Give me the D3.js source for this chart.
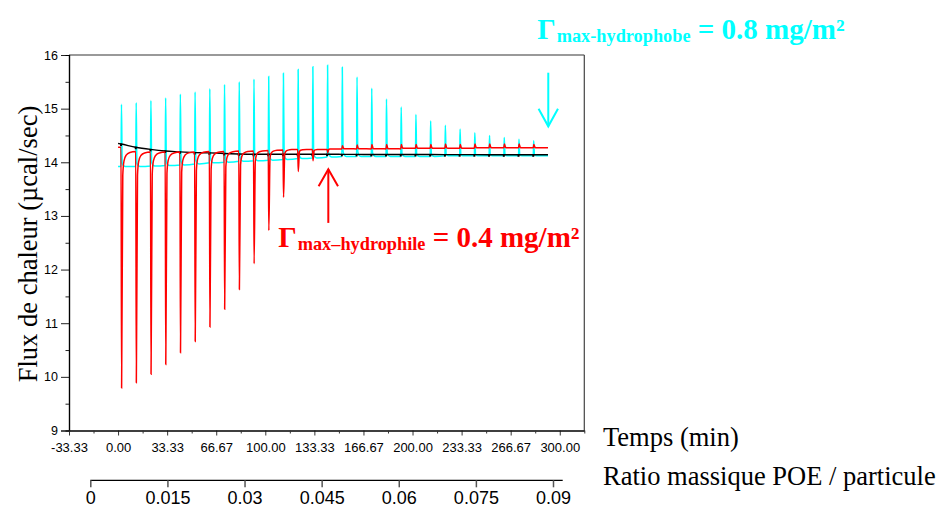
<!DOCTYPE html>
<html><head><meta charset="utf-8">
<script src="https://cdn.jsdelivr.net/npm/d3@7"></script>
<style>body{margin:0;background:#fff}svg{display:block}</style>
</head><body>
<script>
// ---------- data ----------
const injTimes = [2,12,22,32,42,52,62,72,82,92,102,112,122,132,142,152,162,172,182,192,202,212,222,232,242,252,262,272,282];
const cyanPeak = [15.08,15.11,15.15,15.20,15.27,15.31,15.37,15.45,15.50,15.55,15.60,15.66,15.73,15.78,15.81,15.77,15.59,15.38,15.18,15.03,14.89,14.77,14.69,14.62,14.55,14.50,14.46,14.43,14.40];
const cyanBase = [13.92,13.92,13.93,13.94,13.95,13.97,13.99,14.00,14.02,14.03,14.04,14.05,14.07,14.08,14.10,14.11,14.11,14.11,14.11,14.11,14.11,14.11,14.12,14.12,14.12,14.12,14.12,14.12,14.12];
const redPeak  = [9.79,9.89,10.05,10.23,10.45,10.66,10.93,11.26,11.63,12.11,12.73,13.35,13.83,14.03,14.18,14.31,14.32,14.33,14.33,14.33,14.33,14.33,14.34,14.33,14.34,14.34,14.34,14.34,14.33];
const redBase  = [14.28,14.20,14.19,14.19,14.19,14.19,14.20,14.20,14.21,14.21,14.22,14.23,14.24,14.24,14.24,14.25,14.25,14.25,14.25,14.25,14.26,14.26,14.26,14.26,14.26,14.27,14.27,14.27,14.27];
const blackAtInj = [14.34,14.28,14.24,14.21,14.195,14.18,14.175,14.165,14.155,14.15,14.15,14.15,14.15,14.15,14.15,14.148,14.147,14.146,14.145,14.145,14.145,14.144,14.143,14.142,14.142,14.141,14.14,14.14,14.14];
const traceStartT = 0, traceEndT = 292;
const cyanStartV = 13.92, cyanEndV = 14.12;
const redStartV = 14.28, redEndV = 14.27;
const blackStartV = 14.35, blackEndV = 14.14;

const xTickVals = [-33.33,0,33.33,66.67,100,133.33,166.67,200,233.33,266.67,300];
const xTickLabels = ["-33.33","0.00","33.33","66.67","100.00","133.33","166.67","200.00","233.33","266.67","300.00"];
const xMinorVals = [-16.67,16.67,50,83.33,116.67,150,183.33,216.67,250,283.33,316.67];
const yTickVals = [9,10,11,12,13,14,15,16];
const yMinorVals = [9.5,10.5,11.5,12.5,13.5,14.5,15.5];
const ratioTickVals = [0,0.015,0.03,0.045,0.06,0.075,0.09];
const ratioTickLabels = ["0","0.015","0.03","0.045","0.06","0.075","0.09"];

// annotation anchors (data units)
const redArrow = {t:142.8, from:12.87, to:13.87};
const cyanArrow = {t:292.2, from:15.67, to:14.67};

// ---------- drawing ----------
const W = 940, H = 508;
const svg = d3.select("body").append("svg").attr("width", W).attr("height", H);
const x = d3.scaleLinear().domain([-33.33, 316.67]).range([69, 584.3]);
const y = d3.scaleLinear().domain([9, 16]).range([430.5, 55]);
const ratio = d3.scaleLinear().domain([0, 0.09]).range([90.3, 553]);
const sans = "'Liberation Sans', Arial, sans-serif";
const serif = "'Liberation Serif', 'Times New Roman', serif";

// spike shapes (rendering profile)
const cyanShape = {dt:[0.3,0.8,1.6,3], f:[1,0.06,0.015,0]};
const redShape = {dt:[0.4,1.2,2,3.5,6], f:[1,0.1,0.04,0.015,0.004]};

const cyanPts = [[traceStartT, cyanStartV]];
injTimes.forEach((t,i)=>{
  const b = cyanBase[i], p = cyanPeak[i];
  cyanPts.push([t, b]);
  cyanShape.dt.forEach((dt,k)=>cyanPts.push([t+dt, b + cyanShape.f[k]*(p-b)]));
});
cyanPts.push([traceEndT, cyanEndV]);

const redPts = [[traceStartT, redStartV]];
injTimes.forEach((t,i)=>{
  const b = redBase[i], p = redPeak[i];
  const post = i < injTimes.length-1 ? redBase[i+1] : redEndV;
  redPts.push([t, b]);
  redShape.dt.forEach((dt,k)=>redPts.push([t+dt, post + redShape.f[k]*(p-post)]));
});
redPts.push([traceEndT, redEndV]);

const blackPts = [[traceStartT, blackStartV]].concat(injTimes.map((t,i)=>[t, blackAtInj[i]])).concat([[traceEndT, blackEndV]]);

const lineGen = d3.line().x(d=>x(d[0])).y(d=>y(d[1])).curve(d3.curveMonotoneX);

const plot = svg.append("g");
plot.append("path").datum(cyanPts).attr("d", lineGen).attr("fill","none").attr("stroke","#00FFFF").attr("stroke-width",1.5);
plot.append("path").datum(blackPts).attr("d", lineGen).attr("fill","none").attr("stroke","#000").attr("stroke-width",1.4);
plot.selectAll("rect.bm").data(injTimes).enter().append("rect").attr("class","bm")
  .attr("x", d=>x(d)-1).attr("y",(d,i)=>y(blackAtInj[i])-0.5).attr("width",2).attr("height",2.5).attr("fill","#000");
plot.append("path").datum(redPts).attr("d", lineGen).attr("fill","none").attr("stroke","#FF0000").attr("stroke-width",1.5);

// frame
const fx0 = x.range()[0], fx1 = x.range()[1], fy0 = y.range()[1], fy1 = y.range()[0];
svg.append("line").attr("x1",fx0).attr("x2",fx1).attr("y1",fy0).attr("y2",fy0).attr("stroke","#777").attr("stroke-width",1.5);
svg.append("line").attr("x1",fx1).attr("x2",fx1).attr("y1",fy0).attr("y2",fy1).attr("stroke","#444").attr("stroke-width",1.2);

// y axis
const yAx = svg.append("g").attr("transform",`translate(${fx0},0)`)
  .call(d3.axisLeft(y).tickValues(yTickVals).tickFormat(d3.format("d")).tickSize(8).tickPadding(3));
const yMin = svg.append("g").attr("transform",`translate(${fx0},0)`)
  .call(d3.axisLeft(y).tickValues(yMinorVals).tickFormat("").tickSize(3.5));
[yAx,yMin].forEach(g=>{g.select(".domain").attr("stroke","#000").attr("stroke-width",1.2);g.selectAll("line").attr("stroke","#222");});
yAx.selectAll("text").attr("font-family",sans).attr("font-size",12.5).attr("fill","#000");

// x axis (time)
const xAx = svg.append("g").attr("transform",`translate(0,${fy1})`)
  .call(d3.axisBottom(x).tickValues(xTickVals).tickFormat((d,i)=>xTickLabels[i]).tickSize(5).tickPadding(7.5).tickSizeOuter(0));
const xMin = svg.append("g").attr("transform",`translate(0,${fy1})`)
  .call(d3.axisBottom(x).tickValues(xMinorVals).tickFormat("").tickSize(3).tickSizeOuter(0));
[xAx,xMin].forEach(g=>{g.select(".domain").attr("stroke","#000").attr("stroke-width",1.2);g.selectAll("line").attr("stroke","#333");});
xAx.selectAll("text").attr("font-family",sans).attr("font-size",13).attr("fill","#000");

// ratio axis
const rAx = svg.append("g").attr("transform","translate(0,480.3)")
  .call(d3.axisBottom(ratio).tickValues(ratioTickVals).tickFormat((d,i)=>ratioTickLabels[i]).tickSize(7).tickPadding(4).tickSizeOuter(0));
rAx.select(".domain").attr("d", `M${ratio(0)},0H${ratio.range()[1]+9.7}`).attr("stroke","#000").attr("stroke-width",1.2);
rAx.selectAll("line").attr("stroke","#555").attr("stroke-width",1.5);
rAx.selectAll("text").attr("font-family",sans).attr("font-size",18).attr("fill","#000");

// axis titles
svg.append("text").attr("transform","translate(37,244) rotate(-90)").attr("text-anchor","middle")
  .attr("font-family",serif).attr("font-size",26.5).text("Flux de chaleur (µcal/sec)");
svg.append("text").attr("x",603).attr("y",446).attr("font-family",serif).attr("font-size",26.5).text("Temps (min)");
svg.append("text").attr("x",603).attr("y",485).attr("font-family",serif).attr("font-size",26.5).text("Ratio massique POE / particule");

// arrows
function arrow(a, color, up){
  const ax = x(a.t), y0 = y(a.from), y1 = y(a.to);
  const hd = up ? 17 : -17.5;
  const g = svg.append("g").attr("stroke",color).attr("stroke-width",2).attr("fill","none");
  g.append("path").attr("d",`M${ax},${y0}L${ax},${y1}`);
  g.append("path").attr("d",`M${ax-9.7},${y1+hd}L${ax},${y1}L${ax+9.7},${y1+hd}`);
}
arrow(redArrow, "#FF0000", true);
arrow(cyanArrow, "#00FFFF", false);

// annotations
function gammaLabel(px, py, sub, rest, color){
  const t = svg.append("text").attr("x",px).attr("y",py).attr("font-family",serif).attr("font-weight","bold").attr("fill",color);
  t.append("tspan").attr("font-size",29).text("Γ");
  t.append("tspan").attr("font-size",18.3).attr("dy",3).attr("dx",1).text(sub);
  t.append("tspan").attr("font-size",29).attr("dy",-3).text(rest);
}
gammaLabel(278.3, 247.3, "max–hydrophile", " = 0.4 mg/m²", "#FF0000");
gammaLabel(537.3, 38.5, "max-hydrophobe", " = 0.8 mg/m²", "#00FFFF");
</script>
</body></html>
